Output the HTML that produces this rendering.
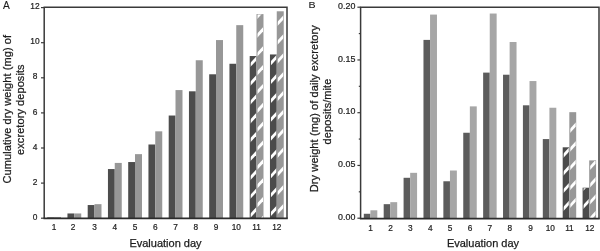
<!DOCTYPE html><html><head><meta charset="utf-8"><title>Figure</title>
<style>html,body{margin:0;padding:0;background:#fff}svg{display:block;filter:blur(0.35px)}text{font-family:"Liberation Sans",sans-serif;fill:#1c1c1c;stroke:#1c1c1c;stroke-width:0.25px}.t{stroke-width:0.2px}</style></head><body>
<svg width="600" height="251" viewBox="0 0 600 251">
<rect width="600" height="251" fill="#fff"/>
<rect x="47.20" y="217.32" width="6.80" height="0.88" fill="#4c4c4c"/>
<rect x="54.00" y="216.97" width="7.00" height="1.23" fill="#979797"/>
<rect x="67.45" y="213.46" width="6.80" height="4.74" fill="#4c4c4c"/>
<rect x="74.25" y="213.46" width="7.00" height="4.74" fill="#979797"/>
<rect x="87.70" y="205.04" width="6.80" height="13.16" fill="#4c4c4c"/>
<rect x="94.50" y="204.16" width="7.00" height="14.04" fill="#979797"/>
<rect x="107.95" y="169.06" width="6.80" height="49.14" fill="#4c4c4c"/>
<rect x="114.75" y="162.92" width="7.00" height="55.28" fill="#979797"/>
<rect x="128.20" y="162.04" width="6.80" height="56.16" fill="#4c4c4c"/>
<rect x="135.00" y="154.14" width="7.00" height="64.06" fill="#979797"/>
<rect x="148.45" y="144.49" width="6.80" height="73.71" fill="#4c4c4c"/>
<rect x="155.25" y="131.33" width="7.00" height="86.87" fill="#979797"/>
<rect x="168.70" y="115.53" width="6.80" height="102.67" fill="#4c4c4c"/>
<rect x="175.50" y="90.08" width="7.00" height="128.12" fill="#979797"/>
<rect x="188.95" y="91.31" width="6.80" height="126.89" fill="#4c4c4c"/>
<rect x="195.75" y="60.25" width="7.00" height="157.95" fill="#979797"/>
<rect x="209.20" y="74.29" width="6.80" height="143.91" fill="#4c4c4c"/>
<rect x="216.00" y="40.07" width="7.00" height="178.13" fill="#979797"/>
<rect x="229.45" y="63.76" width="6.80" height="154.44" fill="#4c4c4c"/>
<rect x="236.25" y="25.15" width="7.00" height="193.05" fill="#979797"/>
<rect x="249.70" y="56.04" width="6.80" height="162.16" fill="#4b4b4b"/>
<rect x="256.50" y="14.09" width="7.00" height="204.11" fill="#979797"/>
<clipPath id="cA100"><rect x="250.70" y="56.54" width="5.30" height="161.66"/></clipPath>
<g clip-path="url(#cA100)" stroke="#fff" stroke-width="2.85">
<line x1="247.70" y1="-7.64" x2="258.50" y2="-19.30"/>
<line x1="247.70" y1="11.21" x2="258.50" y2="-0.45"/>
<line x1="247.70" y1="30.06" x2="258.50" y2="18.40"/>
<line x1="247.70" y1="48.91" x2="258.50" y2="37.25"/>
<line x1="247.70" y1="67.76" x2="258.50" y2="56.10"/>
<line x1="247.70" y1="86.61" x2="258.50" y2="74.95"/>
<line x1="247.70" y1="105.46" x2="258.50" y2="93.80"/>
<line x1="247.70" y1="124.31" x2="258.50" y2="112.65"/>
<line x1="247.70" y1="143.16" x2="258.50" y2="131.50"/>
<line x1="247.70" y1="162.01" x2="258.50" y2="150.35"/>
<line x1="247.70" y1="180.86" x2="258.50" y2="169.20"/>
<line x1="247.70" y1="199.71" x2="258.50" y2="188.05"/>
<line x1="247.70" y1="218.56" x2="258.50" y2="206.90"/>
</g>
<clipPath id="cA101"><rect x="257.50" y="14.59" width="5.50" height="203.61"/></clipPath>
<g clip-path="url(#cA101)" stroke="#fff" stroke-width="2.85">
<line x1="254.50" y1="0.92" x2="265.50" y2="-10.96"/>
<line x1="254.50" y1="19.77" x2="265.50" y2="7.89"/>
<line x1="254.50" y1="38.62" x2="265.50" y2="26.74"/>
<line x1="254.50" y1="57.47" x2="265.50" y2="45.59"/>
<line x1="254.50" y1="76.32" x2="265.50" y2="64.44"/>
<line x1="254.50" y1="95.17" x2="265.50" y2="83.29"/>
<line x1="254.50" y1="114.02" x2="265.50" y2="102.14"/>
<line x1="254.50" y1="132.87" x2="265.50" y2="120.99"/>
<line x1="254.50" y1="151.72" x2="265.50" y2="139.84"/>
<line x1="254.50" y1="170.57" x2="265.50" y2="158.69"/>
<line x1="254.50" y1="189.42" x2="265.50" y2="177.54"/>
<line x1="254.50" y1="208.27" x2="265.50" y2="196.39"/>
<line x1="254.50" y1="227.12" x2="265.50" y2="215.24"/>
</g>
<rect x="269.95" y="54.46" width="6.80" height="163.74" fill="#4b4b4b"/>
<rect x="276.75" y="11.29" width="7.00" height="206.91" fill="#979797"/>
<clipPath id="cA110"><rect x="270.95" y="54.96" width="5.30" height="163.24"/></clipPath>
<g clip-path="url(#cA110)" stroke="#fff" stroke-width="2.85">
<line x1="267.95" y1="-9.04" x2="278.75" y2="-20.70"/>
<line x1="267.95" y1="9.81" x2="278.75" y2="-1.85"/>
<line x1="267.95" y1="28.66" x2="278.75" y2="17.00"/>
<line x1="267.95" y1="47.51" x2="278.75" y2="35.85"/>
<line x1="267.95" y1="66.36" x2="278.75" y2="54.70"/>
<line x1="267.95" y1="85.21" x2="278.75" y2="73.55"/>
<line x1="267.95" y1="104.06" x2="278.75" y2="92.40"/>
<line x1="267.95" y1="122.91" x2="278.75" y2="111.25"/>
<line x1="267.95" y1="141.76" x2="278.75" y2="130.10"/>
<line x1="267.95" y1="160.61" x2="278.75" y2="148.95"/>
<line x1="267.95" y1="179.46" x2="278.75" y2="167.80"/>
<line x1="267.95" y1="198.31" x2="278.75" y2="186.65"/>
<line x1="267.95" y1="217.16" x2="278.75" y2="205.50"/>
<line x1="267.95" y1="236.01" x2="278.75" y2="224.35"/>
</g>
<clipPath id="cA111"><rect x="277.75" y="11.79" width="5.50" height="206.41"/></clipPath>
<g clip-path="url(#cA111)" stroke="#fff" stroke-width="2.85">
<line x1="274.75" y1="-10.93" x2="285.75" y2="-22.81"/>
<line x1="274.75" y1="7.92" x2="285.75" y2="-3.96"/>
<line x1="274.75" y1="26.77" x2="285.75" y2="14.89"/>
<line x1="274.75" y1="45.62" x2="285.75" y2="33.74"/>
<line x1="274.75" y1="64.47" x2="285.75" y2="52.59"/>
<line x1="274.75" y1="83.32" x2="285.75" y2="71.44"/>
<line x1="274.75" y1="102.17" x2="285.75" y2="90.29"/>
<line x1="274.75" y1="121.02" x2="285.75" y2="109.14"/>
<line x1="274.75" y1="139.87" x2="285.75" y2="127.99"/>
<line x1="274.75" y1="158.72" x2="285.75" y2="146.84"/>
<line x1="274.75" y1="177.57" x2="285.75" y2="165.69"/>
<line x1="274.75" y1="196.42" x2="285.75" y2="184.54"/>
<line x1="274.75" y1="215.27" x2="285.75" y2="203.39"/>
<line x1="274.75" y1="234.12" x2="285.75" y2="222.24"/>
</g>
<path d="M44.2 218.4V7.2H287.0V218.4" fill="none" stroke="#3a3a3a" stroke-width="1.5" stroke-linejoin="miter"/>
<line x1="43.45" y1="218.4" x2="287.75" y2="218.4" stroke="#2c2c2c" stroke-width="1.6"/>
<line x1="41.0" y1="218.20" x2="44.2" y2="218.20" stroke="#3a3a3a" stroke-width="1.2"/>
<text x="35.0" y="219.80" text-anchor="middle" font-size="8.4" class="t">0</text>
<line x1="41.0" y1="183.10" x2="44.2" y2="183.10" stroke="#3a3a3a" stroke-width="1.2"/>
<text x="35.0" y="184.70" text-anchor="middle" font-size="8.4" class="t">2</text>
<line x1="41.0" y1="148.00" x2="44.2" y2="148.00" stroke="#3a3a3a" stroke-width="1.2"/>
<text x="35.0" y="149.60" text-anchor="middle" font-size="8.4" class="t">4</text>
<line x1="41.0" y1="112.90" x2="44.2" y2="112.90" stroke="#3a3a3a" stroke-width="1.2"/>
<text x="35.0" y="114.50" text-anchor="middle" font-size="8.4" class="t">6</text>
<line x1="41.0" y1="77.80" x2="44.2" y2="77.80" stroke="#3a3a3a" stroke-width="1.2"/>
<text x="35.0" y="79.40" text-anchor="middle" font-size="8.4" class="t">8</text>
<line x1="41.0" y1="42.70" x2="44.2" y2="42.70" stroke="#3a3a3a" stroke-width="1.2"/>
<text x="35.0" y="44.30" text-anchor="middle" font-size="8.4" class="t">10</text>
<line x1="41.0" y1="7.60" x2="44.2" y2="7.60" stroke="#3a3a3a" stroke-width="1.2"/>
<text x="35.0" y="9.20" text-anchor="middle" font-size="8.4" class="t">12</text>
<text x="54.10" y="230.1" text-anchor="middle" font-size="8.3" class="t">1</text>
<text x="73.05" y="230.1" text-anchor="middle" font-size="8.3" class="t">2</text>
<text x="94.60" y="230.1" text-anchor="middle" font-size="8.3" class="t">3</text>
<text x="114.85" y="230.1" text-anchor="middle" font-size="8.3" class="t">4</text>
<text x="135.10" y="230.1" text-anchor="middle" font-size="8.3" class="t">5</text>
<text x="155.35" y="230.1" text-anchor="middle" font-size="8.3" class="t">6</text>
<text x="175.60" y="230.1" text-anchor="middle" font-size="8.3" class="t">7</text>
<text x="195.85" y="230.1" text-anchor="middle" font-size="8.3" class="t">8</text>
<text x="216.10" y="230.1" text-anchor="middle" font-size="8.3" class="t">9</text>
<text x="236.35" y="230.1" text-anchor="middle" font-size="8.3" class="t">10</text>
<text x="256.60" y="230.1" text-anchor="middle" font-size="8.3" class="t">11</text>
<text x="276.85" y="230.1" text-anchor="middle" font-size="8.3" class="t">12</text>
<text x="165.5" y="246.9" text-anchor="middle" font-size="11">Evaluation day</text>
<text transform="translate(2.9,9.1) scale(1.0,1)" font-size="10.2" style="stroke-width:0.1px">A</text>
<text transform="translate(10.6,109.2) rotate(-90)" text-anchor="middle" font-size="11" textLength="148.6">Cumulative dry weight (mg) of</text>
<text transform="translate(24.3,109.7) rotate(-90)" text-anchor="middle" font-size="11" textLength="90.5">excretory deposits</text>
<rect x="363.80" y="213.77" width="6.60" height="4.43" fill="#5c5c5c"/>
<rect x="370.40" y="210.29" width="6.90" height="7.91" fill="#a6a6a6"/>
<rect x="383.69" y="204.17" width="6.60" height="14.03" fill="#5c5c5c"/>
<rect x="390.29" y="202.16" width="6.90" height="16.04" fill="#a6a6a6"/>
<rect x="403.58" y="177.79" width="6.60" height="40.41" fill="#5c5c5c"/>
<rect x="410.18" y="172.83" width="6.90" height="45.36" fill="#a6a6a6"/>
<rect x="423.47" y="39.90" width="6.60" height="178.30" fill="#5c5c5c"/>
<rect x="430.07" y="14.58" width="6.90" height="203.62" fill="#a6a6a6"/>
<rect x="443.36" y="181.27" width="6.60" height="36.93" fill="#5c5c5c"/>
<rect x="449.96" y="170.51" width="6.90" height="47.69" fill="#a6a6a6"/>
<rect x="463.25" y="132.75" width="6.60" height="85.45" fill="#5c5c5c"/>
<rect x="469.85" y="106.37" width="6.90" height="111.83" fill="#a6a6a6"/>
<rect x="483.14" y="72.61" width="6.60" height="145.59" fill="#5c5c5c"/>
<rect x="489.74" y="13.53" width="6.90" height="204.67" fill="#a6a6a6"/>
<rect x="503.03" y="74.72" width="6.60" height="143.48" fill="#5c5c5c"/>
<rect x="509.63" y="42.01" width="6.90" height="176.19" fill="#a6a6a6"/>
<rect x="522.92" y="105.31" width="6.60" height="112.88" fill="#5c5c5c"/>
<rect x="529.52" y="81.05" width="6.90" height="137.15" fill="#a6a6a6"/>
<rect x="542.81" y="139.07" width="6.60" height="79.12" fill="#5c5c5c"/>
<rect x="549.41" y="107.74" width="6.90" height="110.46" fill="#a6a6a6"/>
<rect x="562.70" y="147.30" width="6.60" height="70.90" fill="#4b4b4b"/>
<rect x="569.30" y="112.17" width="6.90" height="106.03" fill="#979797"/>
<clipPath id="cB100"><rect x="563.70" y="147.80" width="5.10" height="70.40"/></clipPath>
<g clip-path="url(#cB100)" stroke="#fff" stroke-width="2.85">
<line x1="560.70" y1="158.66" x2="571.30" y2="147.21"/>
<line x1="560.70" y1="176.36" x2="571.30" y2="164.91"/>
<line x1="560.70" y1="193.96" x2="571.30" y2="182.51"/>
<line x1="560.70" y1="211.86" x2="571.30" y2="200.41"/>
</g>
<clipPath id="cB101"><rect x="570.30" y="112.67" width="5.40" height="105.53"/></clipPath>
<g clip-path="url(#cB101)" stroke="#fff" stroke-width="2.85">
<line x1="567.30" y1="133.72" x2="578.20" y2="121.95"/>
<line x1="567.30" y1="152.52" x2="578.20" y2="140.75"/>
<line x1="567.30" y1="171.02" x2="578.20" y2="159.25"/>
<line x1="567.30" y1="191.02" x2="578.20" y2="179.25"/>
<line x1="567.30" y1="208.92" x2="578.20" y2="197.15"/>
</g>
<rect x="582.59" y="187.71" width="6.60" height="30.49" fill="#4b4b4b"/>
<rect x="589.19" y="160.39" width="6.90" height="57.81" fill="#979797"/>
<clipPath id="cB110"><rect x="583.59" y="188.21" width="5.10" height="29.99"/></clipPath>
<g clip-path="url(#cB110)" stroke="#fff" stroke-width="2.85">
<line x1="580.59" y1="191.76" x2="591.19" y2="180.31"/>
<line x1="580.59" y1="209.86" x2="591.19" y2="198.41"/>
</g>
<clipPath id="cB111"><rect x="590.19" y="160.89" width="5.40" height="57.31"/></clipPath>
<g clip-path="url(#cB111)" stroke="#fff" stroke-width="2.85">
<line x1="587.19" y1="171.02" x2="598.09" y2="159.25"/>
<line x1="587.19" y1="188.42" x2="598.09" y2="176.65"/>
<line x1="587.19" y1="205.52" x2="598.09" y2="193.75"/>
<line x1="587.19" y1="222.22" x2="598.09" y2="210.45"/>
</g>
<path d="M360.6 218.65V7.2H599V218.65" fill="none" stroke="#3a3a3a" stroke-width="1.5" stroke-linejoin="miter"/>
<line x1="359.85" y1="218.65" x2="599.75" y2="218.65" stroke="#2c2c2c" stroke-width="1.8"/>
<line x1="357.40000000000003" y1="218.20" x2="360.6" y2="218.20" stroke="#3a3a3a" stroke-width="1.2"/>
<text x="355.4" y="219.80" text-anchor="end" font-size="8.4" class="t" textLength="17.3" lengthAdjust="spacingAndGlyphs">0.00</text>
<line x1="357.40000000000003" y1="165.45" x2="360.6" y2="165.45" stroke="#3a3a3a" stroke-width="1.2"/>
<text x="355.4" y="167.05" text-anchor="end" font-size="8.4" class="t" textLength="17.3" lengthAdjust="spacingAndGlyphs">0.05</text>
<line x1="357.40000000000003" y1="112.70" x2="360.6" y2="112.70" stroke="#3a3a3a" stroke-width="1.2"/>
<text x="355.4" y="114.30" text-anchor="end" font-size="8.4" class="t" textLength="17.3" lengthAdjust="spacingAndGlyphs">0.10</text>
<line x1="357.40000000000003" y1="59.95" x2="360.6" y2="59.95" stroke="#3a3a3a" stroke-width="1.2"/>
<text x="355.4" y="61.55" text-anchor="end" font-size="8.4" class="t" textLength="17.3" lengthAdjust="spacingAndGlyphs">0.15</text>
<line x1="357.40000000000003" y1="7.20" x2="360.6" y2="7.20" stroke="#3a3a3a" stroke-width="1.2"/>
<text x="355.4" y="8.80" text-anchor="end" font-size="8.4" class="t" textLength="17.3" lengthAdjust="spacingAndGlyphs">0.20</text>
<line x1="358.8" y1="191.82" x2="360.6" y2="191.82" stroke="#3a3a3a" stroke-width="1.2"/>
<line x1="358.8" y1="139.07" x2="360.6" y2="139.07" stroke="#3a3a3a" stroke-width="1.2"/>
<line x1="358.8" y1="86.32" x2="360.6" y2="86.32" stroke="#3a3a3a" stroke-width="1.2"/>
<line x1="358.8" y1="33.57" x2="360.6" y2="33.57" stroke="#3a3a3a" stroke-width="1.2"/>
<text x="370.55" y="231.3" text-anchor="middle" font-size="8.3" class="t">1</text>
<text x="390.44" y="231.3" text-anchor="middle" font-size="8.3" class="t">2</text>
<text x="410.33" y="231.3" text-anchor="middle" font-size="8.3" class="t">3</text>
<text x="430.22" y="231.3" text-anchor="middle" font-size="8.3" class="t">4</text>
<text x="450.11" y="231.3" text-anchor="middle" font-size="8.3" class="t">5</text>
<text x="470.00" y="231.3" text-anchor="middle" font-size="8.3" class="t">6</text>
<text x="489.89" y="231.3" text-anchor="middle" font-size="8.3" class="t">7</text>
<text x="509.78" y="231.3" text-anchor="middle" font-size="8.3" class="t">8</text>
<text x="530.47" y="231.3" text-anchor="middle" font-size="8.3" class="t">9</text>
<text x="550.36" y="231.3" text-anchor="middle" font-size="8.3" class="t">10</text>
<text x="569.45" y="231.3" text-anchor="middle" font-size="8.3" class="t">11</text>
<text x="589.84" y="231.3" text-anchor="middle" font-size="8.3" class="t">12</text>
<text x="483" y="247.1" text-anchor="middle" font-size="11">Evaluation day</text>
<text transform="translate(308.4,8.4) scale(1.13,1)" font-size="9.4" style="stroke-width:0.1px">B</text>
<text transform="translate(318.2,108.7) rotate(-90)" text-anchor="middle" font-size="11" textLength="167">Dry weight (mg) of daily excretory</text>
<text transform="translate(331.4,111.5) rotate(-90)" text-anchor="middle" font-size="11" textLength="65.8">deposits/mite</text>
</svg></body></html>
